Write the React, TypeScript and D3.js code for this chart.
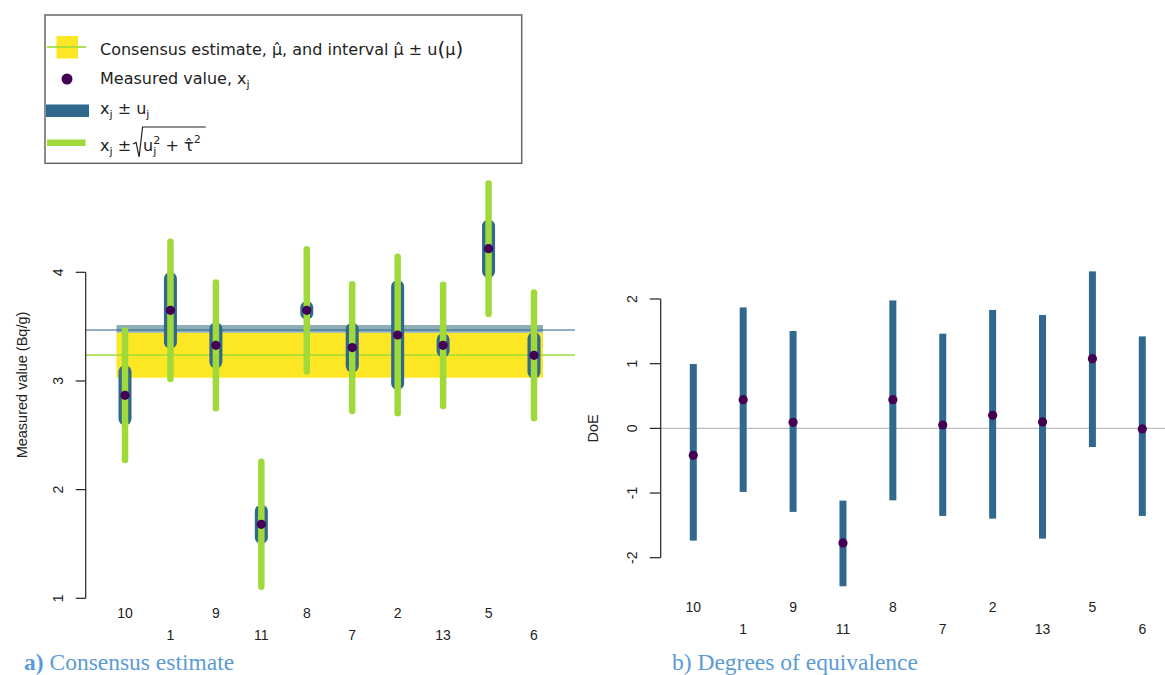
import React, { useEffect, useRef } from "react";
import * as d3 from "d3";

// Participants in plotting order
const labs = ["10", "1", "9", "11", "8", "7", "2", "13", "5", "6"];

// Measured values x_j (Bq/g), standard uncertainties u_j and expanded half-widths sqrt(u_j^2 + tau^2)
const measured = [2.868, 3.65, 3.328, 1.681, 3.65, 3.307, 3.423, 3.328, 4.217, 3.236];
const stdUnc = [0.216, 0.293, 0.152, 0.121, 0.026, 0.17, 0.446, 0.051, 0.208, 0.154];
const expandedUnc = [0.596, 0.632, 0.578, 0.575, 0.563, 0.583, 0.721, 0.558, 0.601, 0.578];

// Consensus estimate and its standard uncertainty
const consensusValue = 3.237;
const consensusUnc = 0.207;
// Reference line and its shaded band
const refValue = 3.469;
const refBand = [3.444, 3.515];

// Degrees of equivalence with their interval limits
const doeValue = [-0.417, 0.444, 0.093, -1.771, 0.444, 0.052, 0.201, 0.099, 1.077, -0.009];
const doeLower = [-1.736, -0.983, -1.292, -2.442, -1.113, -1.354, -1.396, -1.705, -0.288, -1.354];
const doeUpper = [0.995, 1.87, 1.505, -1.117, 1.978, 1.464, 1.831, 1.753, 2.427, 1.422];

const leftTicks = [1, 2, 3, 4];
const rightTicks = [-2, -1, 0, 1, 2];

const C = {
  yellow: "#fde725",
  green: "#9fda3a",
  blue: "#31688e",
  purple: "#440154",
  band: "#8eaeb6",
  axis: "#222222",
  caption: "#5b9bd5",
  zero: "#bdbdbd",
};

const SANS = "'Liberation Sans', Arial, sans-serif";
const LEG = "'DejaVu Sans', sans-serif";
const SERIF = "'Liberation Serif', 'Times New Roman', serif";

export default function App() {
  const ref = useRef<SVGSVGElement | null>(null);

  useEffect(() => {
    const svg = d3.select(ref.current);
    svg.selectAll("*").remove();

    // ---------- Panel a: consensus estimate ----------
    const xL = d3.scaleLinear().domain([0, labs.length - 1]).range([125, 534]);
    const yL = d3.scaleLinear().domain([1, 4]).range([598.3, 272.3]);
    const gA = svg.append("g");

    const rx0 = xL(0) - 8.5;
    const rx1 = xL(labs.length - 1) + 9;
    gA.append("rect")
      .attr("x", rx0)
      .attr("width", rx1 - rx0)
      .attr("y", yL(consensusValue + consensusUnc))
      .attr("height", yL(consensusValue - consensusUnc) - yL(consensusValue + consensusUnc))
      .attr("fill", C.yellow);
    gA.append("rect")
      .attr("x", rx0)
      .attr("width", rx1 - rx0)
      .attr("y", yL(refBand[1]))
      .attr("height", yL(refBand[0]) - yL(refBand[1]))
      .attr("fill", C.band);

    const axL = 85.7;
    gA.append("line")
      .attr("x1", axL).attr("x2", 575)
      .attr("y1", yL(refValue)).attr("y2", yL(refValue))
      .attr("stroke", C.blue).attr("stroke-opacity", 0.7).attr("stroke-width", 1.6);
    gA.append("line")
      .attr("x1", axL).attr("x2", 575)
      .attr("y1", yL(consensusValue)).attr("y2", yL(consensusValue))
      .attr("stroke", C.green).attr("stroke-opacity", 0.85).attr("stroke-width", 1.8);

    labs.forEach((_, i) => {
      const x = xL(i);
      gA.append("line")
        .attr("x1", x).attr("x2", x)
        .attr("y1", yL(measured[i] - stdUnc[i])).attr("y2", yL(measured[i] + stdUnc[i]))
        .attr("stroke", C.blue).attr("stroke-width", 13).attr("stroke-linecap", "round");
    });
    labs.forEach((_, i) => {
      const x = xL(i);
      gA.append("line")
        .attr("x1", x).attr("x2", x)
        .attr("y1", yL(measured[i] - expandedUnc[i])).attr("y2", yL(measured[i] + expandedUnc[i]))
        .attr("stroke", C.green).attr("stroke-width", 6.5).attr("stroke-linecap", "round");
    });
    labs.forEach((_, i) => {
      gA.append("circle")
        .attr("cx", xL(i)).attr("cy", yL(measured[i]))
        .attr("r", 4.6).attr("fill", C.purple);
    });

    // left axis
    gA.append("line")
      .attr("x1", axL).attr("x2", axL)
      .attr("y1", yL(1)).attr("y2", yL(4))
      .attr("stroke", C.axis).attr("stroke-width", 1.2);
    leftTicks.forEach((t) => {
      gA.append("line")
        .attr("x1", axL - 10).attr("x2", axL)
        .attr("y1", yL(t)).attr("y2", yL(t))
        .attr("stroke", C.axis).attr("stroke-width", 1.2);
      gA.append("text")
        .attr("transform", `translate(${63},${yL(t)}) rotate(-90)`)
        .attr("text-anchor", "middle")
        .attr("font-family", SANS).attr("font-size", 14)
        .attr("fill", C.axis)
        .text(String(t));
    });
    gA.append("text")
      .attr("transform", `translate(${27},${385}) rotate(-90)`)
      .attr("text-anchor", "middle")
      .attr("font-family", SANS).attr("font-size", 14.5)
      .attr("fill", C.axis)
      .text("Measured value (Bq/g)");
    labs.forEach((lab, i) => {
      gA.append("text")
        .attr("x", xL(i)).attr("y", i % 2 === 0 ? 618 : 640)
        .attr("text-anchor", "middle")
        .attr("font-family", SANS).attr("font-size", 14)
        .attr("fill", C.axis)
        .text(lab);
    });

    // ---------- Panel b: degrees of equivalence ----------
    const xR = d3.scaleLinear().domain([0, labs.length - 1]).range([693.3, 1142.3]);
    const yR = d3.scaleLinear().domain([-2, 2]).range([557.7, 299]);
    const gB = svg.append("g");
    const axR = 660.7;

    gB.append("line")
      .attr("x1", axR).attr("x2", 1165)
      .attr("y1", yR(0)).attr("y2", yR(0))
      .attr("stroke", C.zero).attr("stroke-width", 1.3);
    labs.forEach((_, i) => {
      gB.append("rect")
        .attr("x", xR(i) - 3.5).attr("width", 7)
        .attr("y", yR(doeUpper[i]))
        .attr("height", yR(doeLower[i]) - yR(doeUpper[i]))
        .attr("fill", C.blue);
    });
    labs.forEach((_, i) => {
      gB.append("circle")
        .attr("cx", xR(i)).attr("cy", yR(doeValue[i]))
        .attr("r", 4.6).attr("fill", C.purple);
    });
    gB.append("line")
      .attr("x1", axR).attr("x2", axR)
      .attr("y1", yR(-2)).attr("y2", yR(2))
      .attr("stroke", C.axis).attr("stroke-width", 1.2);
    rightTicks.forEach((t) => {
      gB.append("line")
        .attr("x1", axR - 11).attr("x2", axR)
        .attr("y1", yR(t)).attr("y2", yR(t))
        .attr("stroke", C.axis).attr("stroke-width", 1.2);
      gB.append("text")
        .attr("transform", `translate(${637},${yR(t)}) rotate(-90)`)
        .attr("text-anchor", "middle")
        .attr("font-family", SANS).attr("font-size", 14)
        .attr("fill", C.axis)
        .text(String(t));
    });
    gB.append("text")
      .attr("transform", `translate(${598},${yR(0)}) rotate(-90)`)
      .attr("text-anchor", "middle")
      .attr("font-family", SANS).attr("font-size", 14.5)
      .attr("fill", C.axis)
      .text("DoE");
    labs.forEach((lab, i) => {
      gB.append("text")
        .attr("x", xR(i)).attr("y", i % 2 === 0 ? 612 : 634)
        .attr("text-anchor", "middle")
        .attr("font-family", SANS).attr("font-size", 14)
        .attr("fill", C.axis)
        .text(lab);
    });

    // ---------- Legend ----------
    const gL = svg.append("g");
    gL.append("rect")
      .attr("x", 45).attr("y", 15).attr("width", 476.7).attr("height", 148.3)
      .attr("fill", "white").attr("stroke", "#666").attr("stroke-width", 1.5);

    const tx = 100;
    const fs = 16;
    // row 1
    gL.append("rect").attr("x", 56.5).attr("y", 36).attr("width", 21.5).attr("height", 22.5).attr("fill", C.yellow);
    gL.append("line").attr("x1", 47).attr("x2", 86).attr("y1", 47).attr("y2", 47)
      .attr("stroke", C.green).attr("stroke-opacity", 0.85).attr("stroke-width", 1.8);
    const t1 = gL.append("text").attr("x", tx).attr("y", 55)
      .attr("font-family", LEG).attr("font-size", fs).attr("fill", C.axis);
    t1.append("tspan").text("Consensus estimate, \u03bc\u0302, and interval \u03bc\u0302 \u00b1 u");
    t1.append("tspan").attr("font-size", fs * 1.25).attr("dy", 1).text("(");
    t1.append("tspan").attr("font-size", fs).attr("dy", -1).text("\u03bc");
    t1.append("tspan").attr("font-size", fs * 1.25).attr("dy", 1).text(")");

    // row 2
    gL.append("circle").attr("cx", 67).attr("cy", 79).attr("r", 5.5).attr("fill", C.purple);
    const t2 = gL.append("text").attr("x", tx).attr("y", 84)
      .attr("font-family", LEG).attr("font-size", fs).attr("fill", C.axis);
    t2.append("tspan").text("Measured value, x");
    t2.append("tspan").attr("font-size", fs * 0.7).attr("dy", 4).text("j");

    // row 3
    gL.append("rect").attr("x", 46).attr("y", 104.5).attr("width", 43).attr("height", 12.5).attr("fill", C.blue);
    const t3 = gL.append("text").attr("x", tx).attr("y", 114)
      .attr("font-family", LEG).attr("font-size", fs).attr("fill", C.axis);
    t3.append("tspan").text("x");
    t3.append("tspan").attr("font-size", fs * 0.7).attr("dy", 4).text("j");
    t3.append("tspan").attr("font-size", fs).attr("dy", -4).text(" \u00b1 u");
    t3.append("tspan").attr("font-size", fs * 0.7).attr("dy", 4).text("j");

    // row 4
    gL.append("rect").attr("x", 47).attr("y", 139.5).attr("width", 38.5).attr("height", 6.5).attr("fill", C.green);
    const base4 = 151;
    const t4 = gL.append("text").attr("x", tx).attr("y", base4)
      .attr("font-family", LEG).attr("font-size", fs).attr("fill", C.axis);
    t4.append("tspan").text("x");
    t4.append("tspan").attr("font-size", fs * 0.7).attr("dy", 4).text("j");
    t4.append("tspan").attr("font-size", fs).attr("dy", -4).text(" \u00b1");
    const w4 = (t4.node() as SVGTextElement).getComputedTextLength();
    const r0 = tx + w4 + 2;
    const rad = gL.append("text").attr("x", r0 + 10).attr("y", base4)
      .attr("font-family", LEG).attr("font-size", fs).attr("fill", C.axis);
    rad.append("tspan").text("u");
    rad.append("tspan").attr("font-size", fs * 0.7).attr("dy", 4).text("j");
    rad.append("tspan").attr("font-size", fs * 0.7).attr("dx", -3).attr("dy", -11).text("2");
    rad.append("tspan").attr("font-size", fs).attr("dy", 7).text(" + \u03c4\u0302");
    rad.append("tspan").attr("font-size", fs * 0.7).attr("dy", -8).text("2");
    const wr = (rad.node() as SVGTextElement).getComputedTextLength();
    gL.append("path")
      .attr("d", `M${r0},${base4 - 7} L${r0 + 3},${base4 - 8.5} L${r0 + 6},${base4 + 6} L${r0 + 9.5},${base4 - 24} H${r0 + 12 + wr}`)
      .attr("fill", "none").attr("stroke", C.axis).attr("stroke-width", 1.2)
      .attr("stroke-linejoin", "miter");

    // ---------- Panel captions ----------
    const cap1 = svg.append("text").attr("x", 24).attr("y", 670)
      .attr("font-family", SERIF)
      .attr("font-size", 23.5).attr("fill", C.caption);
    cap1.append("tspan").attr("font-weight", "bold").text("a)");
    cap1.append("tspan").text(" Consensus estimate");
    svg.append("text").attr("x", 672).attr("y", 670)
      .attr("font-family", SERIF)
      .attr("font-size", 23.5).attr("fill", C.caption)
      .text("b) Degrees of equivalence");
  }, []);

  return (
    <svg
      ref={ref}
      width={1165}
      height={675}
      style={{ position: "absolute", left: 0, top: 0, display: "block", background: "white" }}
    />
  );
}
